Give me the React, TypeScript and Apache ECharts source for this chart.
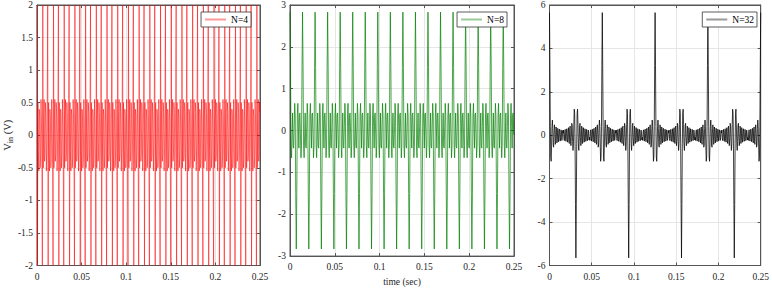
import { useEffect, useRef } from "react";
import * as echarts from "echarts";

// ---- data ----
const xTickValues = [0, 0.05, 0.1, 0.15, 0.2, 0.25];
const seriesNames = ["N=4", "N=8", "N=32"];
const yMins = [-2, -3, -6];
const yMaxs = [2, 3, 6];
const yIntervals = [0.5, 1, 2];
const tEnd = 0.25;

// N=4: one repeating cycle (two full-swing events), sample values
const n4Period = 0.012;
const n4Cycle = [
  2.0, -2.0, 0.5, -0.25, -0.55, 0.4, 0.3, -0.5, -0.35, 0.55, 0.2, -0.5,
  -2.0, 2.0, -0.5, 0.25, 0.55, -0.4, -0.3, 0.5, 0.35, -0.55, -0.2, 0.5,
];

// N=8: one cycle = positive spike + negative spike
const n8Period = 0.014;
const n8Cycle = [
  2.83, 1.5, -0.35, -0.65, -0.1, 0.42, -0.38, -0.42, 0.1, 0.65, 0.35, -1.5,
  -2.83, -1.5, 0.35, 0.65, 0.1, -0.42, 0.38, 0.42, -0.1, -0.65, -0.35, 1.5,
];

// N=32: one cycle = positive spike + negative spike
const n32Period = 0.0625;
const n32Cycle = [
  5.65, 3.2, 0.4, -1.0, -1.2, -0.5, 0.4, 0.7, 0.3, -0.45, -0.55, 0.1, 0.48, 0.3, -0.42, -0.3,
  0.38, 0.25, -0.35, -0.2, 0.32, 0.22, -0.3, -0.15, 0.28, 0.2, -0.27, -0.12, 0.25, 0.15, -0.24, -0.1,
  0.22, 0.1, 0.24, -0.15, -0.25, 0.12, 0.27, -0.2, -0.28, 0.15, 0.3, -0.22, -0.32, 0.2, 0.35, -0.25,
  -0.38, 0.3, 0.42, -0.3, -0.48, -0.1, 0.55, 0.45, -0.3, -0.7, -0.4, 0.5, 1.2, 1.0, -0.4, -3.2,
  -5.65, -3.2, -0.4, 1.0, 1.2, 0.5, -0.4, -0.7, -0.3, 0.45, 0.55, -0.1, -0.48, -0.3, 0.42, 0.3,
  -0.38, -0.25, 0.35, 0.2, -0.32, -0.22, 0.3, 0.15, -0.28, -0.2, 0.27, 0.12, -0.25, -0.15, 0.24, 0.1,
  -0.22, -0.1, -0.24, 0.15, 0.25, -0.12, -0.27, 0.2, 0.28, -0.15, -0.3, 0.22, 0.32, -0.2, -0.35, 0.25,
  0.38, -0.3, -0.42, 0.3, 0.48, 0.1, -0.55, -0.45, 0.3, 0.7, 0.4, -0.5, -1.2, -1.0, 0.4, 3.2,
];

const periods = [n4Period, n8Period, n32Period];
const cycles = [n4Cycle, n8Cycle, n32Cycle];

function tile(period: number, cycle: number[]): [number, number][] {
  const pts: [number, number][] = [];
  const dt = period / cycle.length;
  for (let p = 0; p * period <= tEnd + 1e-9; p++) {
    for (let i = 0; i < cycle.length; i++) {
      const t = p * period + i * dt;
      if (t > tEnd + 1e-9) break;
      pts.push([t, cycle[i]]);
    }
  }
  return pts;
}

const FONT = "Liberation Serif";
const colors = ["#ff0000", "#008000", "#000000"];
const lineWidths = [0.55, 0.7, 0.75];
const gridLeft = [37, 290, 549.5];
const gridWidth = [223, 224, 213.5];
const legendRight = [521, 265, 15];

export default function App() {
  const ref = useRef<HTMLDivElement>(null);
  useEffect(() => {
    if (!ref.current) return;
    const chart = echarts.init(ref.current, null, { renderer: "svg" });
    const grid: any[] = [];
    const xAxis: any[] = [];
    const yAxis: any[] = [];
    const series: any[] = [];
    const legend: any[] = [];
    for (let i = 0; i < 3; i++) {
      grid.push({
        left: gridLeft[i],
        width: gridWidth[i],
        top: 4,
        height: 261.5,
        show: true,
        borderColor: "#555",
        borderWidth: 1,
        backgroundColor: "transparent",
      });
      const axisCommon = {
        gridIndex: i,
        axisLine: { show: true, onZero: false, lineStyle: { color: "#555", width: 1 } },
        axisTick: { show: true, inside: true, length: 3, lineStyle: { color: "#555" } },
      };
      xAxis.push({
        ...axisCommon,
        type: "value",
        position: "bottom",
        min: xTickValues[0],
        max: xTickValues[xTickValues.length - 1],
        interval: xTickValues[1] - xTickValues[0],
        axisLabel: { color: "#262626", fontFamily: FONT, fontSize: 9.5, margin: 6 },
        splitLine: { show: true, lineStyle: { color: "#e6e6e6", width: 1 } },
        name: i === 1 ? "time (sec)" : "",
        nameLocation: "middle",
        nameGap: 16,
        nameTextStyle: { color: "#262626", fontFamily: FONT, fontSize: 9.5 },
      });
      xAxis.push({
        ...axisCommon,
        type: "value",
        position: "top",
        min: xTickValues[0],
        max: xTickValues[xTickValues.length - 1],
        interval: xTickValues[1] - xTickValues[0],
        axisLabel: { show: false },
        splitLine: { show: false },
      });
      yAxis.push({
        ...axisCommon,
        type: "value",
        position: "left",
        min: yMins[i],
        max: yMaxs[i],
        interval: yIntervals[i],
        axisLabel: { color: "#262626", fontFamily: FONT, fontSize: 9.5, margin: 4 },
        splitLine: { show: true, lineStyle: { color: "#e6e6e6", width: 1 } },
        name: i === 0 ? "{a|V}{b|in}{a| (V)}" : "",
        nameLocation: "middle",
        nameGap: 23,
        nameRotate: 90,
        nameTextStyle: {
          color: "#262626",
          fontFamily: FONT,
          fontSize: 10.5,
          rich: {
            a: { fontFamily: FONT, fontSize: 10.5, color: "#262626" },
            b: { fontFamily: FONT, fontSize: 8, color: "#262626", verticalAlign: "bottom", padding: [5, 0, 0, 0] },
          },
        },
      });
      yAxis.push({
        ...axisCommon,
        type: "value",
        position: "right",
        min: yMins[i],
        max: yMaxs[i],
        interval: yIntervals[i],
        axisLabel: { show: false },
        splitLine: { show: false },
      });
      series.push({
        name: seriesNames[i],
        type: "line",
        xAxisIndex: 2 * i,
        yAxisIndex: 2 * i,
        data: tile(periods[i], cycles[i]),
        symbol: "none",
        showSymbol: false,
        clip: true,
        silent: true,
        lineStyle: { color: colors[i], width: lineWidths[i] },
        itemStyle: { color: colors[i] },
      });
      legend.push({
        data: [seriesNames[i]],
        right: legendRight[i],
        top: 12,
        z: 10,
        backgroundColor: "#ffffff",
        borderColor: "#333",
        borderWidth: 0.8,
        borderRadius: 0,
        padding: [2.5, 3, 2.5, 4],
        icon: "rect",
        itemWidth: 21,
        itemHeight: 2,
        itemGap: 4,
        selectedMode: false,
        itemStyle: { color: colors[i], opacity: 0.4, borderWidth: 0 },
        textStyle: { fontFamily: FONT, fontSize: 9.5, color: "#000", lineHeight: 10 },
      });
    }
    chart.setOption({
      animation: false,
      backgroundColor: "#ffffff",
      grid,
      xAxis,
      yAxis,
      series,
      legend,
    });
    return () => chart.dispose();
  }, []);
  return (
    <div
      ref={ref}
      style={{ position: "fixed", left: 0, top: 0, width: 772, height: 292 }}
    />
  );
}
